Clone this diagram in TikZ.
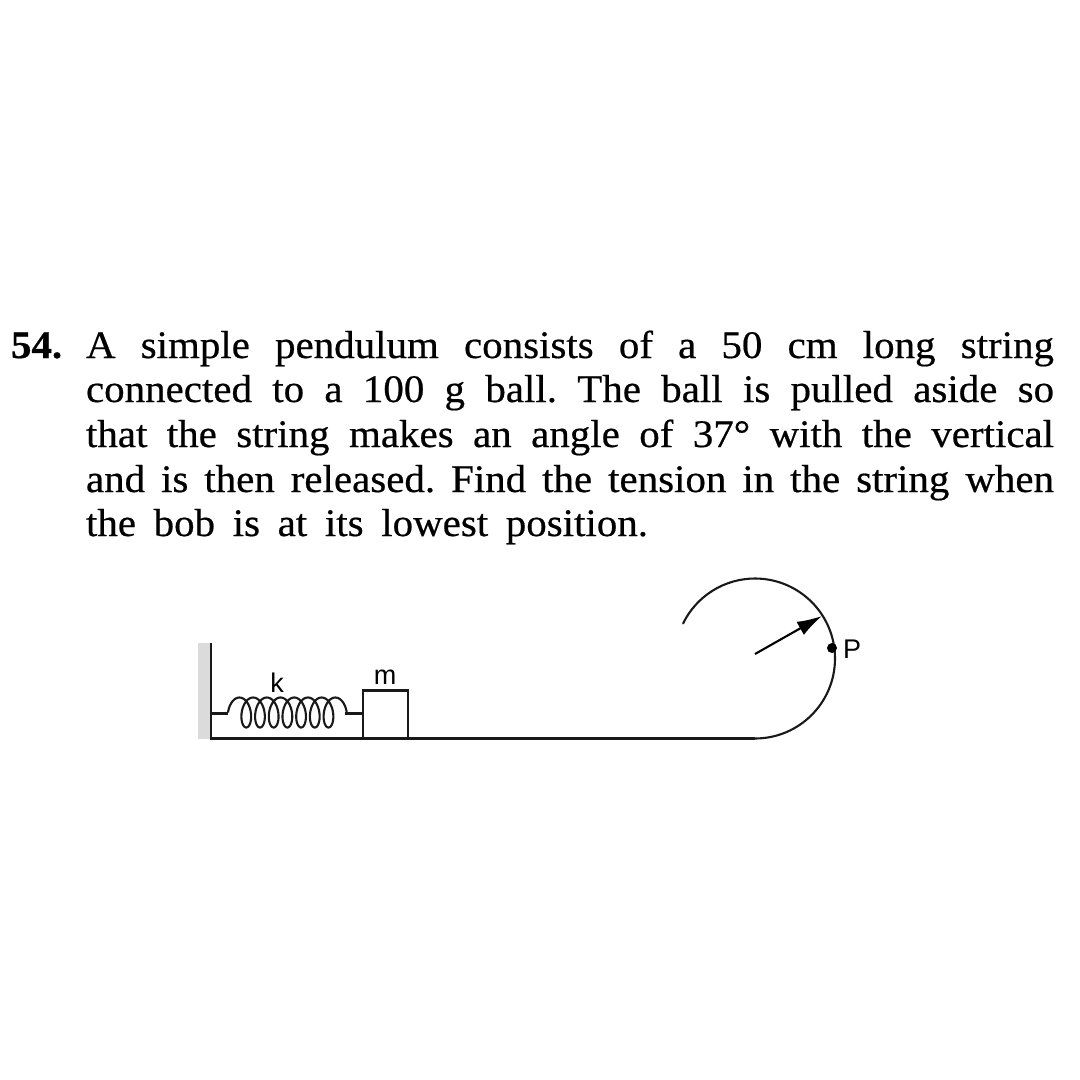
\documentclass[tikz,border=0pt]{standalone}
\usepackage{fontspec}
\setmainfont[FakeStretch=1.05,FakeBold=0.5]{Liberation Serif}
\setsansfont{Liberation Sans}
\usetikzlibrary{arrows.meta}
\tikzset{
  txt/.style={anchor=base west,inner sep=0pt,outer sep=0pt,font=\fontsize{39}{44}\selectfont\frenchspacing},
  lbl/.style={inner sep=0pt,outer sep=0pt,font=\sffamily\fontsize{27}{30}\selectfont},
  ln/.style={draw=black!90,line width=2.1pt},
  thin ln/.style={draw=black!90,line width=2.1pt},
}
\newcommand{\qline}[2]{\makebox[#1pt][s]{#2}}
\begin{document}
\begin{tikzpicture}[x=1pt,y=-1pt]
\useasboundingbox[fill=white] (0,0) rectangle (1080,1080);
% text
\node[txt] (num) at (11,358) {\textbf{54.}};
\node[txt] (l1) at (86,358) {\qline{968}{A simple pendulum consists of a 50 cm long string}};
\node[txt] (l2) at (86,402) {\qline{968}{connected to a 100 g ball. The ball is pulled aside so}};
\node[txt] (l3) at (86,447) {\qline{968}{that the string makes an angle of 37° with the vertical}};
\node[txt] (l4) at (86,492) {\qline{968}{and is then released. Find the tension in the string when}};
\node[txt] (l5) at (86,536) {\qline{562}{the bob is at its lowest position.}};
% wall
\fill[black!14] (198,643) rectangle (211,739);
\coordinate (walltop) at (211,643);
\coordinate (corner) at (211,738.5);
\coordinate (arcstart) at (755,738.5);
\draw[ln] (walltop) -- (corner) -- (arcstart);
% track
\coordinate (centre) at (755,658);
\draw[ln,line cap=round] (arcstart) arc[start angle=90,end angle=-154,radius=80];
% spring
\coordinate (sa) at (211,713.5);
\coordinate (sb) at (228,713.5);
\coordinate (sc) at (345,713.5);
\coordinate (sd) at (363,713.5);
\draw[thin ln] (sa) -- (sb);
\draw[thin ln] (sc) -- (sd);
\draw[thin ln,smooth] plot[variable=\t,samples=420,domain=180:2880] ({236+(\t-180)/360*13.7+8*cos(\t)},{712.5+15*sin(\t)});
% block
\node[draw=black!90,line width=2.1pt,minimum width=45pt,minimum height=48pt,inner sep=0pt,outer sep=0pt] (block) at (385.5,714.5) {};
% labels
\node[lbl] (k) at (277,683) {k};
\node[lbl] (m) at (385,677) {m};
\node[lbl] (P) at (852,649) {P};
% radius arrow
\coordinate (rstart) at (755,654);
\coordinate (rend) at (822,616);
\draw[thin ln,black,-{Latex[length=25pt,width=15pt]}] (rstart) -- (rend);
\node[circle,fill=black,minimum size=10pt,inner sep=0pt] (dot) at (832,648) {};
\end{tikzpicture}
\end{document}
